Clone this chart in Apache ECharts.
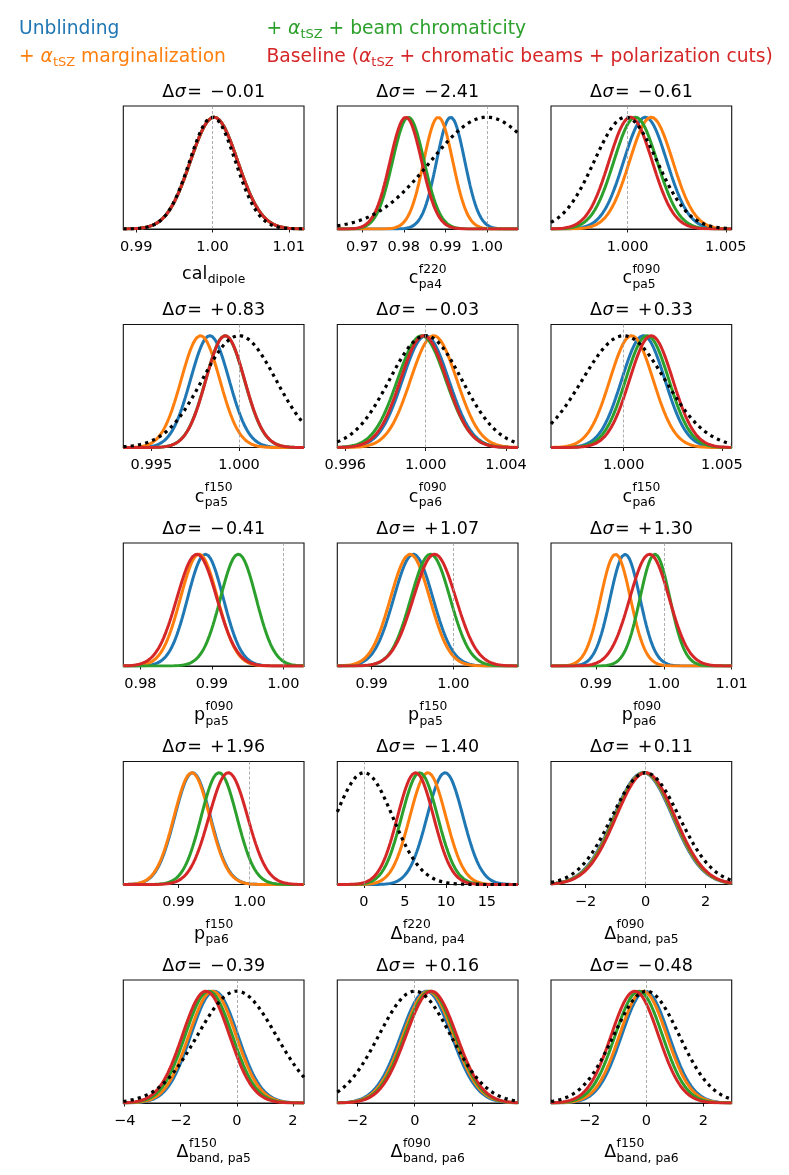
<!DOCTYPE html>
<html><head><meta charset="utf-8">
<script src="https://cdn.jsdelivr.net/npm/echarts@6.0.0/dist/echarts.min.js"></script>
<style>html,body{margin:0;padding:0;background:#fff}#c{width:789px;height:1175px}</style>
</head><body><div id="c"></div>
<script>
// ---------------- data ----------------
const titles = ['−0.01','−2.41','−0.61','+0.83','−0.03','+0.33','−0.41','+1.07','+1.30','+1.96','−1.40','+0.11','−0.39','+0.16','−0.48'];
const labelBase = ['cal','c','c','c','c','c','p','p','p','p','Δ','Δ','Δ','Δ','Δ'];
const labelSup = ['','f220','f090','f150','f090','f150','f090','f150','f090','f150','f220','f090','f150','f090','f150'];
const labelSub = ['dipole','pa4','pa5','pa5','pa6','pa6','pa5','pa5','pa6','pa6','band, pa4','band, pa5','band, pa5','band, pa6','band, pa6'];
const xMin = [0.9883,0.9640,0.9961,0.9934,0.9956,0.9963,0.9776,0.9858,0.9834,0.9823,-3.25,-3.15,-4.05,-2.7,-3.36];
const xMax = [1.0120,1.0075,1.0053,1.0037,1.0046,1.0055,1.0029,1.0079,1.0100,1.0076,18.8,2.87,2.4,3.6,3.0];
const tickValues = [[0.99,1.00,1.01],[0.97,0.98,0.99,1.00],[1.000,1.005],[0.995,1.000],[0.996,1.000,1.004],[1.000,1.005],[0.98,0.99,1.00],[0.99,1.00],[0.99,1.00,1.01],[0.99,1.00],[0,5,10,15],[-2,0,2],[-4,-2,0,2],[-2,0,2],[-2,0,2]];
const tickLabels = [['0.99','1.00','1.01'],['0.97','0.98','0.99','1.00'],['1.000','1.005'],['0.995','1.000'],['0.996','1.000','1.004'],['1.000','1.005'],['0.98','0.99','1.00'],['0.99','1.00'],['0.99','1.00','1.01'],['0.99','1.00'],['0','5','10','15'],['−2','0','2'],['−4','−2','0','2'],['−2','0','2'],['−2','0','2']];
const nominal = [1,1,1,1,1,1,1,1,1,1,0,0,0,0,0];

// posterior means / widths (Unblinding, +tSZ marg., +beam chrom., Baseline)
const blueMean    = [1.0002,0.9913,1.0009,0.99833,1.0000,1.0010,0.9891,0.9951,0.9943,0.9920,9.9,-0.08,-0.80,0.40,-0.04];
const blueSigma   = [0.0031,0.0034,0.0011,0.0011,0.00115,0.0011,0.0025,0.0024,0.0022,0.0025,2.2,0.98,0.84,0.88,0.83];
const orangeMean  = [1.0002,0.9883,1.0012,0.9978,1.0004,1.0004,0.9882,0.9947,0.9929,0.9919,7.8,-0.05,-0.87,0.47,-0.12];
const orangeSigma = [0.0031,0.0035,0.0011,0.0011,0.00115,0.0011,0.0026,0.0024,0.0022,0.0025,2.2,0.98,0.84,0.88,0.83];
const greenMean   = [1.0002,0.9811,1.0004,0.9992,0.9998,1.0012,0.9937,0.9972,0.9987,0.9957,6.8,-0.03,-1.00,0.53,-0.27];
const greenSigma  = [0.0031,0.0038,0.0011,0.0011,0.0012,0.0011,0.0025,0.0024,0.0022,0.0025,2.2,0.98,0.84,0.88,0.83];
const redMean     = [1.0002,0.9805,1.00015,0.99921,0.9999,1.0014,0.9879,0.9977,0.9979,0.9970,6.3,0.00,-1.10,0.58,-0.41];
const redSigma    = [0.0031,0.0038,0.0011,0.0011,0.00115,0.0011,0.0028,0.0026,0.0029,0.0027,2.2,0.98,0.84,0.88,0.83];
// prior (black dotted); null = no prior drawn
const priorMean   = [1.0,1.0,0.9999,1.0,1.0,1.0,null,null,null,null,0,0,0,0,0];
const priorSigma  = [0.0030,0.0135,0.0016,0.0021,0.0018,0.0021,null,null,null,null,3.5,1.12,1.4,1.25,1.15];

const legendItems = [
  {color:'#1f77b4', parts:[['t','Unblinding']]},
  {color:'#2ca02c', parts:[['t','+ '],['a','α'],['s','tSZ'],['t',' + beam chromaticity']]},
  {color:'#ff7f0e', parts:[['t','+ '],['a','α'],['s','tSZ'],['t',' marginalization']]},
  {color:'#d62728', parts:[['t','Baseline ('],['a','α'],['s','tSZ'],['t',' + chromatic beams + polarization cuts)']]}
];

// ---------------- layout ----------------
const F = '"DejaVu Sans"';
const colLeft = [123.3, 337.3, 551];
const panelW = 180.7, panelH = 123;
const rowTop0 = 106, rowPitch = 218.5;
const curveColors = ['#1f77b4','#ff7f0e','#2ca02c','#d62728'];

const ctx = document.createElement('canvas').getContext('2d');
function tw(str, size, style) { ctx.font = (style || 'normal') + ' ' + size + 'px ' + F; return ctx.measureText(str).width; }
function gauss(m, s, lo, hi) {
  const pts = []; const n = 300;
  for (let k = 0; k <= n; k++) { const x = lo + (hi - lo) * k / n; pts.push([x, Math.exp(-0.5 * Math.pow((x - m) / s, 2))]); }
  return pts;
}

const grid = [], xAxis = [], yAxis = [], series = [], graphic = [];
for (let i = 0; i < 15; i++) {
  const r = Math.floor(i / 3), c = i % 3;
  const left = colLeft[c], top = rowTop0 + r * rowPitch, bottom = top + panelH, cx = left + panelW / 2;
  grid.push({left: left, top: top, width: panelW, height: panelH, show: true, borderColor: '#111', borderWidth: 1.1, outerBoundsMode: 'none'});
  const tv = tickValues[i], tl = tickLabels[i];
  xAxis.push({type: 'value', gridIndex: i, min: xMin[i], max: xMax[i],
    splitLine: {show: false},
    axisLine: {show: true, onZero: false, lineStyle: {color: '#111', width: 1.1}},
    axisTick: {show: true, customValues: tv, length: 3.5, lineStyle: {color: '#000', width: 0.9}},
    axisLabel: {show: true, customValues: tv, margin: 10.5, fontSize: 14.5, fontFamily: F, color: '#000',
      formatter: function (v) { for (let k = 0; k < tv.length; k++) { if (Math.abs(tv[k] - v) < 1e-9) return tl[k]; } return ''; }}
  });
  yAxis.push({type: 'value', gridIndex: i, min: 0, max: 1.1, show: false});
  const means = [blueMean[i], orangeMean[i], greenMean[i], redMean[i]];
  const sigmas = [blueSigma[i], orangeSigma[i], greenSigma[i], redSigma[i]];
  for (let s = 0; s < 4; s++) {
    const ser = {type: 'line', xAxisIndex: i, yAxisIndex: i, showSymbol: false, symbol: 'none', silent: true,
      lineStyle: {color: curveColors[s], width: 3}, data: gauss(means[s], sigmas[s], xMin[i], xMax[i])};
    if (s === 0) ser.markLine = {silent: true, symbol: ['none','none'], label: {show: false},
      lineStyle: {color: '#999', width: 0.8, type: [3, 2]}, data: [{xAxis: nominal[i]}]};
    series.push(ser);
  }
  if (priorMean[i] !== null) {
    series.push({type: 'line', xAxisIndex: i, yAxisIndex: i, showSymbol: false, symbol: 'none', silent: true,
      lineStyle: {color: '#000', width: 3.2, type: [3.2, 4.2], cap: 'butt'}, data: gauss(priorMean[i], priorSigma[i], xMin[i], xMax[i])});
  }
  // panel title
  const t = titles[i];
  const tf = 17.5;
  graphic.push({type: 'text', x: cx, y: top - 14, silent: true, style: {
    text: '{d|Δ}{s|σ}{e|=}{m|' + t[0] + '}{v|' + t.slice(1) + '}', align: 'center', verticalAlign: 'middle',
    rich: {d: {fontSize: tf, fontFamily: F, fill: '#000', padding: [0, 0.5, 0, 0]}, s: {fontSize: tf, fontFamily: F, fontStyle: 'italic', fill: '#000'},
      e: {fontSize: tf, fontFamily: F, fill: '#000', padding: [0, 8, 0, 1.5]}, m: {fontSize: tf, fontFamily: F, fill: '#000', padding: [0, 1.5, 0, 0]},
      v: {fontSize: tf, fontFamily: F, fill: '#000'}}}});
  // axis label
  const hasSup = labelSup[i] !== '';
  const bs = 17.5, ss = 12.3;
  const wB = tw(labelBase[i], bs), wS = Math.max(tw(labelSup[i], ss), tw(labelSub[i], ss));
  const x0 = cx - (wB + 0.5 + wS) / 2;
  const baseBL = bottom + (hasSup ? 55 : 51);
  graphic.push({type: 'text', x: x0, y: baseBL - 0.3 * bs, silent: true, style: {text: labelBase[i], fontSize: bs, fontFamily: F, fill: '#000', align: 'left', verticalAlign: 'middle'}});
  if (hasSup) graphic.push({type: 'text', x: x0 + wB + 0.5, y: baseBL - 11 - 0.3 * ss, silent: true, style: {text: labelSup[i], fontSize: ss, fontFamily: F, fill: '#000', align: 'left', verticalAlign: 'middle'}});
  graphic.push({type: 'text', x: x0 + wB + 0.5, y: baseBL + (hasSup ? 4 : 3) - 0.3 * ss, silent: true, style: {text: labelSub[i], fontSize: ss, fontFamily: F, fill: '#000', align: 'left', verticalAlign: 'middle'}});
}

// legend text (two columns, two rows)
const legPos = [[19, 29.2], [266.5, 29.2], [19, 57.2], [266.5, 57.2]];
const lf = 18.7;
legendItems.forEach(function (it, k) {
  const txt = it.parts.map(function (p) { return '{' + p[0] + '|' + p[1] + '}'; }).join('');
  graphic.push({type: 'text', x: legPos[k][0], y: legPos[k][1], silent: true, style: {
    text: txt, align: 'left', verticalAlign: 'middle',
    rich: {t: {fontSize: lf, fontFamily: F, fill: it.color, lineHeight: 24},
      a: {fontSize: lf, fontFamily: F, fontStyle: 'italic', fill: it.color, lineHeight: 24},
      s: {fontSize: 13, fontFamily: F, fill: it.color, lineHeight: 14, verticalAlign: 'bottom'}}}});
});

const chart = echarts.init(document.getElementById('c'), null, {renderer: 'canvas'});
chart.setOption({animation: false, backgroundColor: '#fff', textStyle: {fontFamily: F},
  grid: grid, xAxis: xAxis, yAxis: yAxis, series: series, graphic: graphic});
</script></body></html>
